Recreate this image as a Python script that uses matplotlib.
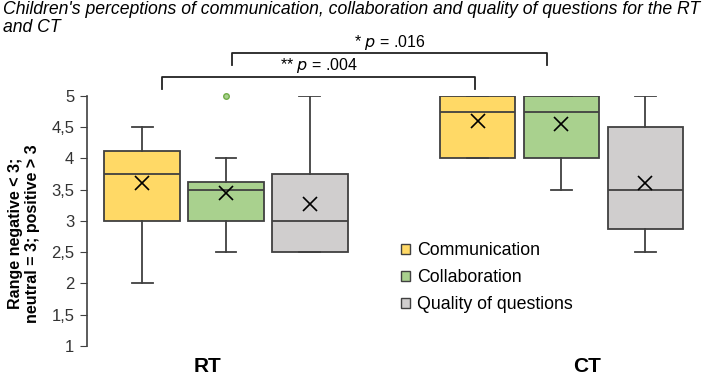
import matplotlib
matplotlib.use("Agg")
import matplotlib.pyplot as plt
from matplotlib.patches import Patch

plt.rcParams["font.family"] = ["Liberation Sans", "DejaVu Sans"]

# Box statistics (RT group first, then CT group)
series = ["Communication", "Collaboration", "Quality of questions"]
groups = ["RT", "CT"]
whislo = [2.0, 2.5, 2.5, 4.0, 3.5, 2.5]
q1 = [3.0, 3.0, 2.5, 4.0, 4.0, 2.875]
med = [3.75, 3.5, 3.0, 4.75, 4.75, 3.5]
q3 = [4.125, 3.625, 3.75, 5.0, 5.0, 4.5]
whishi = [4.5, 4.0, 5.0, 5.0, 5.0, 5.0]
means = [3.6, 3.45, 3.27, 4.6, 4.55, 3.6]
fliers = [[], [5.0], [], [], [], []]
yticks = [1, 1.5, 2, 2.5, 3, 3.5, 4, 4.5, 5]
ytick_labels = ["1", "1,5", "2", "2,5", "3", "3,5", "4", "4,5", "5"]
comparisons = [("** $p$ = .004", 0.24, 3.97, 5.30), ("* $p$ = .016", 1.07, 4.83, 5.68)]

colors = ["#FFD966", "#A9D18E", "#D0CECE"]
edge = "#404040"
positions = [0, 1, 2, 4, 5, 6]

fig = plt.figure(figsize=(7.06, 3.8), dpi=100)
ax = fig.add_axes([0.123, 0.0895, 0.88, 0.658])

stats = []
for i in range(6):
    stats.append(dict(whislo=whislo[i], q1=q1[i], med=med[i], q3=q3[i],
                      whishi=whishi[i], mean=means[i], fliers=fliers[i]))

bp = ax.bxp(stats, positions=positions, widths=0.9, capwidths=0.25,
            patch_artist=True, showmeans=True,
            boxprops=dict(edgecolor=edge, linewidth=1.3),
            medianprops=dict(color=edge, linewidth=1.3),
            whiskerprops=dict(color=edge, linewidth=1.3),
            capprops=dict(color=edge, linewidth=1.3),
            meanprops=dict(marker="x", markeredgecolor="black", markersize=10,
                           markeredgewidth=1.2),
            flierprops=dict(marker="o", markerfacecolor="#A9D18E",
                            markeredgecolor="#70AD47", markersize=4))
for i, box in enumerate(bp["boxes"]):
    box.set_facecolor(colors[i % 3])
for f in bp["fliers"]:
    f.set_clip_on(False)

ax.set_xlim(-0.66, 6.75)
ax.set_ylim(1, 5)
ax.set_yticks(yticks)
ax.set_yticklabels(ytick_labels, fontsize=12, color="#333333")
ax.tick_params(axis="y", length=5, color=edge, pad=4)
ax.set_xticks([0.78, 5.31])
ax.set_xticklabels(groups, fontsize=15, fontweight="bold")
ax.tick_params(axis="x", length=0, pad=8)
for s in ["top", "right", "bottom"]:
    ax.spines[s].set_visible(False)
ax.spines["left"].set_color(edge)
ax.spines["left"].set_linewidth(1.2)

ax.set_ylabel("Range negative < 3;\nneutral = 3; positive > 3", fontsize=11.5,
              fontweight="bold")
ax.yaxis.set_label_coords(-0.075, 0.45)

# significance brackets
for label, x0, x1, y in comparisons:
    ax.plot([x0, x0, x1, x1], [y - 0.19, y, y, y - 0.19], color="#222222",
            lw=1.3, clip_on=False)
    ax.text((x0 + x1) / 2, y + 0.03, label, ha="center", va="bottom",
            fontsize=11.5)

handles = [Patch(facecolor=c, edgecolor=edge, label=s) for c, s in zip(colors, series)]
fig.legend(handles=handles, loc="upper left", bbox_to_anchor=(0.558, 0.381),
           frameon=False, fontsize=12.8, handlelength=0.5, handleheight=0.5,
           handletextpad=0.4, labelspacing=0.55, borderaxespad=0)

fig.text(0.004, 0.997, "Children's perceptions of communication, collaboration and quality of questions for the RT\nand CT",
         ha="left", va="top", fontsize=12.7, style="italic", linespacing=1.05)

fig.savefig("out.png", dpi=100)
